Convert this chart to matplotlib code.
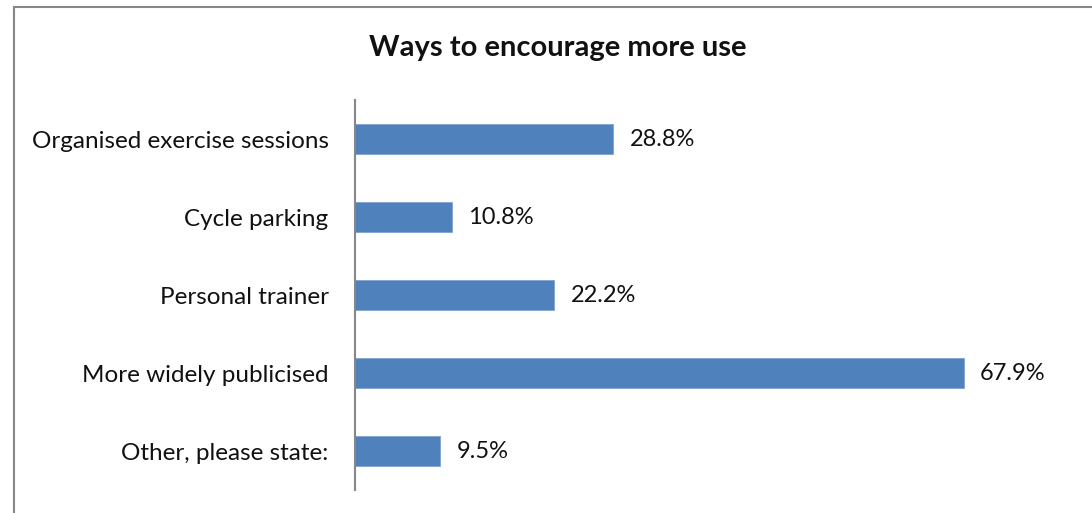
import matplotlib.pyplot as plt
from matplotlib.patches import Rectangle

categories = ["Organised exercise sessions", "Cycle parking", "Personal trainer",
              "More widely publicised", "Other, please state:"]
values = [28.8, 10.8, 22.2, 67.9, 9.5]
value_labels = ["28.8%", "10.8%", "22.2%", "67.9%", "9.5%"]

plt.rcParams["font.family"] = ["Lato", "DejaVu Sans"]

fig = plt.figure(figsize=(10.92, 5.13), dpi=100)

# outer chart frame (right and bottom edges run off the image)
fig.patches.append(Rectangle((13.5 / 1092, -0.05), 1.1, 1 - 7 / 513 + 0.05,
                             transform=fig.transFigure, fill=False,
                             edgecolor="#878787", linewidth=1.5))

ax = fig.add_axes([355 / 1092, 1 - 490 / 513, 717 / 1092, 390 / 513])

ypos = list(range(len(categories)))
ax.barh(ypos, values, height=0.385, color="#4F81BD", edgecolor="#7FA3D0", linewidth=0.6)

for y, v, lab in zip(ypos, values, value_labels):
    ax.annotate(lab, (v, y), xytext=(12, 0), textcoords="offset points",
                va="center", ha="left", fontsize=17, color="#111111")

ax.set_xlim(0, 80)
ax.set_ylim(len(categories) - 0.5, -0.5)
ax.set_yticks(ypos)
ax.set_yticklabels(categories, fontsize=17.5, color="#111111")
ax.tick_params(axis="y", length=0, pad=19)
ax.set_xticks([])

for side in ["top", "right", "bottom"]:
    ax.spines[side].set_visible(False)
ax.spines["left"].set_color("#878787")
ax.spines["left"].set_linewidth(1.5)

fig.text(558 / 1092, 1 - 48 / 513, "Ways to encourage more use", ha="center", va="center",
         fontsize=21, fontweight="bold", color="#111111")

fig.savefig("out.png", dpi=100)
